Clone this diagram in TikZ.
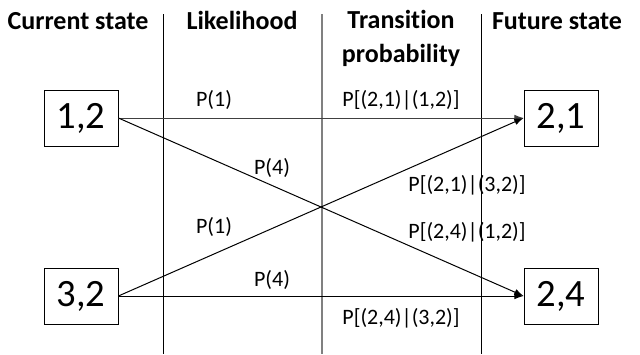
\documentclass[tikz,border=0pt]{standalone}
\usepackage{fontspec}
\setmainfont[Ligatures=NoCommon]{Carlito}
\usetikzlibrary{arrows.meta}

\begin{document}
\begin{tikzpicture}[x=0.75pt,y=0.75pt,yscale=-1,xscale=1,
  statebox/.style={draw, line width=0.6pt, minimum width=55.5pt, minimum height=42pt, inner sep=0pt, font=\fontsize{29}{31}\selectfont},
  hdr/.style={anchor=base, align=center, font=\fontsize{19.5}{25}\selectfont\bfseries},
  lbl/.style={inner sep=0.75pt, font=\fontsize{16.5}{19}\selectfont},
  arr/.style={-{Latex[length=7pt,width=5pt]}, line width=0.75pt}]
\useasboundingbox (0,0) rectangle (640,354);

%Column lines
\draw [line width=0.75pt] (163,14) -- (163,354) ;
\draw [line width=1pt, color={rgb, 255:red, 128; green, 128; blue, 128 }] (322,14) -- (322,354) ;
\draw [line width=0.5pt] (481,14) -- (481,354) ;

% Headers
\node [hdr] (hcur) at (78,29) {Current state};
\node [hdr] (hlik) at (242,29) {Likelihood};
\node [hdr] (htra) at (401,62) {Transition\\probability};
\node [hdr] (hfut) at (557,29) {Future state};

% States
\node [statebox] (s12) at (81,118) {1,2};
\node [statebox] (s32) at (81,296) {3,2};
\node [statebox] (s21) at (561,118) {2,1};
\node [statebox] (s24) at (561,296) {2,4};

% Transitions
\draw [arr, color={rgb, 255:red, 64; green, 64; blue, 64 }] (s12.east) -- (s21.west) ;
\draw [arr] (s12.east) -- (s24.west) ;
\draw [arr] (s32.east) -- (s21.west) ;
\draw [arr] (s32.east) -- (s24.west) ;

% Text Node
\node [lbl] (l1a) at (214,100) {P(1)};
\node [lbl] (l1b) at (401,100) {P[(2,1)|(1,2)]};
\node [lbl] (l2a) at (272,168) {P(4)};
\node [lbl] (l2b) at (467,185) {P[(2,1)|(3,2)]};
\node [lbl] (l3a) at (214,227) {P(1)};
\node [lbl] (l3b) at (467,232) {P[(2,4)|(1,2)]};
\node [lbl] (l4a) at (272,280) {P(4)};
\node [lbl] (l4b) at (401,318) {P[(2,4)|(3,2)]};

\end{tikzpicture}
\end{document}
